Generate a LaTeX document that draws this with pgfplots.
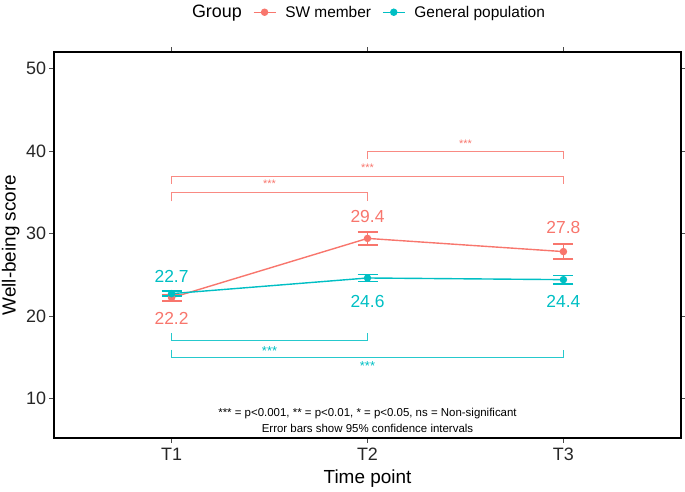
\documentclass[border=0pt]{standalone}
\usepackage{pgfplots}
\pgfplotsset{compat=1.18}
\usepackage{fontspec}
\setmainfont{Liberation Sans}
\definecolor{swcol}{HTML}{F8766D}
\definecolor{gpcol}{HTML}{00BFC4}
\begin{document}
\begin{tikzpicture}
\useasboundingbox (-54bp,-54bp) rectangle (631bp,438bp);
\begin{axis}[
    at={(0,0)}, anchor=south west,
    scale only axis,
    width=627bp, height=386bp,
    xmin=0.4, xmax=3.6,
    ymin=5.2, ymax=52,
    xtick={1,2,3},
    xticklabels={T1,T2,T3},
    ytick={10,20,30,40,50},
    tick align=outside,
    major tick length=4.5bp,
    tick style={black!70, line width=0.8bp},
    axis line style={black, line width=1.6bp},
    /pgf/number format/assume math mode=true,
    ticklabel style={font=\fontsize{18}{20}\selectfont, text=black!85},
    xticklabel style={yshift=-2bp},
    xlabel={Time point},
    ylabel={Well-being score},
    every axis x label/.style={at={(axis description cs:0.5,-0.104)}, anchor=center,
        font=\fontsize{19}{21}\selectfont},
    every axis y label/.style={at={(axis description cs:-0.069,0.5)}, rotate=90, anchor=center,
        font=\fontsize{19}{21}\selectfont},
    legend columns=-1,
    legend style={draw=none, fill=none, at={(axis description cs:0.496,1.103)}, anchor=center,
        font=\fontsize{15.5}{17}\selectfont,
        /tikz/every even column/.append style={column sep=9bp},
        /tikz/every odd column/.append style={column sep=7bp}},
    legend image code/.code={\draw[mark repeat=2,mark phase=2,#1] plot coordinates {(0bp,0bp) (11bp,0bp) (22bp,0bp)};},
]
\addlegendimage{empty legend}
\addlegendentry{\fontsize{18}{20}\selectfont Group}

% SW member
\addplot[color=swcol, line width=1.4bp, mark=*, mark size=3bp,
    error bars/.cd, y dir=both, y explicit,
    error bar style={color=swcol, line width=1.5bp},
    error mark options={color=swcol, rotate=90, mark size=10bp, line width=1.5bp}]
    coordinates {
    (1,22.2) +- (0,0.4)
    (2,29.4) +- (0,0.8)
    (3,27.8) +- (0,0.9)
};
\addlegendentry{SW member}

% General population
\addplot[color=gpcol, line width=1.4bp, mark=*, mark size=3bp,
    error bars/.cd, y dir=both, y explicit,
    error bar style={color=gpcol, line width=1.5bp},
    error mark options={color=gpcol, rotate=90, mark size=10bp, line width=1.5bp}]
    coordinates {
    (1,22.7) +- (0,0.3)
    (2,24.6) +- (0,0.4)
    (3,24.4) +- (0,0.5)
};
\addlegendentry{General population}

% significance brackets
\addplot[swcol!85, line width=0.8bp, forget plot] coordinates {(1,33.9) (1,35.0) (2,35.0) (2,33.9)};
\addplot[swcol!85, line width=0.8bp, forget plot] coordinates {(1,36.0) (1,36.95) (3,36.95) (3,36.0)};
\addplot[swcol!85, line width=0.8bp, forget plot] coordinates {(2,39.0) (2,39.9) (3,39.9) (3,39.0)};
\addplot[gpcol!85, line width=0.8bp, forget plot] coordinates {(1,17.9) (1,17.0) (2,17.0) (2,17.9)};
\addplot[gpcol!85, line width=0.8bp, forget plot] coordinates {(1,15.9) (1,15.0) (3,15.0) (3,15.9)};

\node[swcol, font=\fontsize{11}{11}\selectfont] at (axis cs:1.5,36.0) {***};
\node[swcol, font=\fontsize{11}{11}\selectfont] at (axis cs:2,38.0) {***};
\node[swcol, font=\fontsize{11}{11}\selectfont] at (axis cs:2.5,40.9) {***};
\node[gpcol, font=\fontsize{13}{13}\selectfont] at (axis cs:1.5,15.8) {***};
\node[gpcol, font=\fontsize{13}{13}\selectfont] at (axis cs:2,13.9) {***};

% value labels
\node[swcol, font=\fontsize{17.5}{19}\selectfont] at (axis cs:1,19.75) {22.2};
\node[swcol, font=\fontsize{17.5}{19}\selectfont] at (axis cs:2,32.0) {29.4};
\node[swcol, font=\fontsize{17.5}{19}\selectfont] at (axis cs:3,30.7) {27.8};
\node[gpcol, font=\fontsize{17.5}{19}\selectfont] at (axis cs:1,24.8) {22.7};
\node[gpcol, font=\fontsize{17.5}{19}\selectfont] at (axis cs:2,21.8) {24.6};
\node[gpcol, font=\fontsize{17.5}{19}\selectfont] at (axis cs:3,21.8) {24.4};

\node[align=center, font=\fontsize{11.5}{16}\selectfont] at (axis cs:2,7.3)
    {*** = p<0.001, ** = p<0.01, * = p<0.05, ns = Non-significant\\Error bars show 95\% confidence intervals};
\end{axis}
\end{tikzpicture}
\end{document}
